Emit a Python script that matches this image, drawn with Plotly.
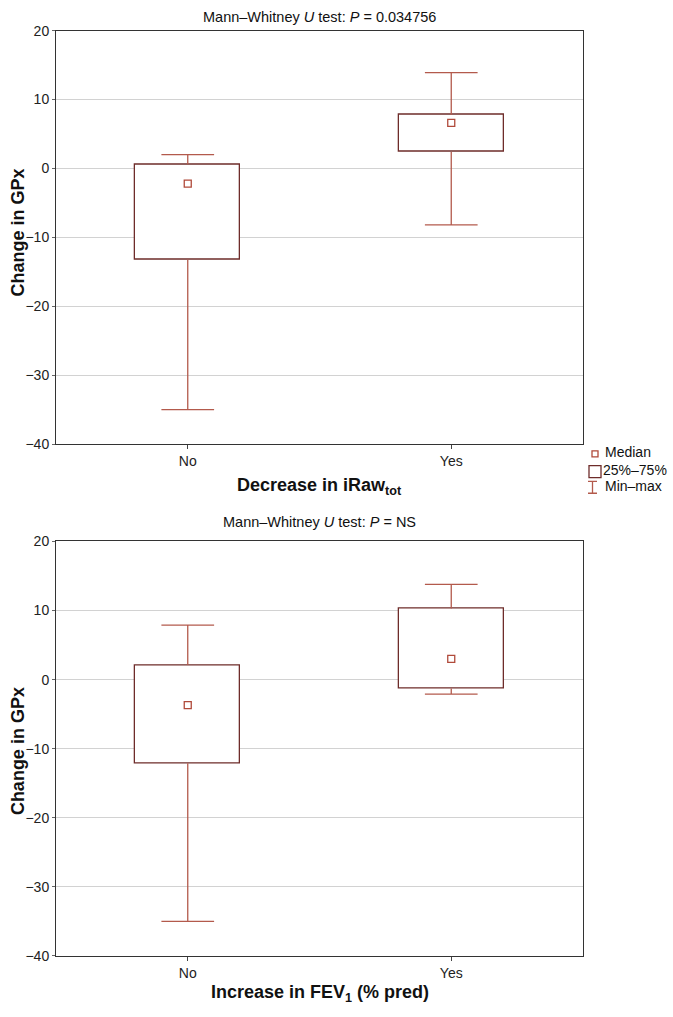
import plotly.graph_objects as go

W, H = 673, 1017

# ---- data ----
categories = ["No", "Yes"]
cat_pos = [0, 1]

# Panel 1: Decrease in iRaw_tot
p1_min = [-35.0, -8.2]
p1_q1 = [-13.2, 2.4]
p1_med = [-2.2, 6.6]
p1_q3 = [0.6, 7.8]
p1_max = [2.0, 13.9]

# Panel 2: Increase in FEV1 (% pred)
p2_min = [-35.0, -2.1]
p2_q1 = [-12.1, -1.3]
p2_med = [-3.7, 3.0]
p2_q3 = [2.1, 10.3]
p2_max = [7.9, 13.8]

y_ticks = [-40, -30, -20, -10, 0, 10, 20]

titles = ["Mann–Whitney <i>U</i> test: <i>P</i> = 0.034756",
          "Mann–Whitney <i>U</i> test: <i>P</i> = NS"]
xtitles = ["<b>Decrease in iRaw<sub>tot</sub></b>",
           "<b>Increase in FEV<sub>1</sub> (% pred)</b>"]
ytitle = "<b>Change in GPx</b>"
legend_labels = ["Median", "25%–75%", "Min–max"]

# ---- style ----
FONT = "Liberation Sans, Arial, sans-serif"
BOX_COL = "#6e2c2a"
WHISK_COL = "#b35a4c"
MED_COL = "#b04a3a"
GRID_COL = "#d2d2d2"
BOX_W = 0.4
CAP_HALF = 0.1


def px_x(x):
    return x / W


def px_y(y):
    return 1 - y / H


fig = go.Figure()

panels = [
    (p1_min, p1_q1, p1_med, p1_q3, p1_max, "x", "y"),
    (p2_min, p2_q1, p2_med, p2_q3, p2_max, "x2", "y2"),
]

for mn, q1, med, q3, mx, xa, ya in panels:
    # box (25%-75%)
    fig.add_trace(go.Bar(
        x=cat_pos, y=[b - a for a, b in zip(q1, q3)], base=q1,
        width=BOX_W, marker=dict(color="white", line=dict(color=BOX_COL, width=1.3)),
        xaxis=xa, yaxis=ya, showlegend=False, hoverinfo="skip"))
    # whiskers
    wx, wy = [], []
    for c, a, b, lo, hi in zip(cat_pos, q1, q3, mn, mx):
        wx += [c, c, None, c, c, None,
               c - CAP_HALF, c + CAP_HALF, None, c - CAP_HALF, c + CAP_HALF, None]
        wy += [b, hi, None, a, lo, None, hi, hi, None, lo, lo, None]
    fig.add_trace(go.Scatter(
        x=wx, y=wy, mode="lines", line=dict(color=WHISK_COL, width=1.3),
        xaxis=xa, yaxis=ya, showlegend=False, hoverinfo="skip"))
    # median
    fig.add_trace(go.Scatter(
        x=cat_pos, y=med, mode="markers",
        marker=dict(symbol="square-open", size=7, color=MED_COL, line=dict(width=1.3)),
        xaxis=xa, yaxis=ya, showlegend=False, hoverinfo="skip"))

# ---- manual legend (own small axis in pixel units) ----
LX0, LX1, LY0, LY1 = 580, 673, 443, 497
fig.add_trace(go.Scatter(
    x=[595], y=[453], mode="markers",
    marker=dict(symbol="square-open", size=6, color=MED_COL, line=dict(width=1.3)),
    xaxis="x3", yaxis="y3", showlegend=False, hoverinfo="skip"))
fig.add_trace(go.Scatter(
    x=[595], y=[471], mode="markers",
    marker=dict(symbol="square-open", size=12, color=BOX_COL, line=dict(width=1.3)),
    xaxis="x3", yaxis="y3", showlegend=False, hoverinfo="skip"))
fig.add_trace(go.Scatter(
    x=[588, 597, None, 592.5, 592.5, None, 588, 597],
    y=[481, 481, None, 481, 493, None, 493, 493],
    mode="lines", line=dict(color=WHISK_COL, width=1.3),
    xaxis="x3", yaxis="y3", showlegend=False, hoverinfo="skip"))
fig.add_trace(go.Scatter(
    x=[605, 603, 605], y=[453, 471, 487], mode="text", text=legend_labels,
    textposition="middle right", textfont=dict(family=FONT, size=14, color="#111"),
    xaxis="x3", yaxis="y3", showlegend=False, hoverinfo="skip"))

# ---- axes ----
xdom = [px_x(56), px_x(583)]
ydoms = [[px_y(443), px_y(23)], [px_y(963), px_y(542)]]

common_x = dict(
    range=[-0.5, 1.5], tickvals=cat_pos, ticktext=categories,
    ticks="outside", ticklen=4, tickcolor="#444", showgrid=False, zeroline=False,
    showline=True, linecolor="#333", linewidth=1, mirror=True,
    tickfont=dict(family=FONT, size=14, color="#222"), fixedrange=True)
common_y = dict(
    range=[-40, 20], tickvals=y_ticks, ticks="outside", ticklen=3, tickcolor="#666",
    showgrid=True, gridcolor=GRID_COL, gridwidth=1, zeroline=False,
    showline=True, linecolor="#333", linewidth=1, mirror=True,
    tickfont=dict(family=FONT, size=14, color="#222"), fixedrange=True)

fig.update_layout(
    width=W, height=H, margin=dict(l=0, r=0, t=0, b=0),
    paper_bgcolor="white", plot_bgcolor="white", bargap=0, barmode="overlay",
    showlegend=False,
    xaxis=dict(domain=xdom, anchor="y", **common_x),
    yaxis=dict(domain=ydoms[0], anchor="x", **common_y),
    xaxis2=dict(domain=xdom, anchor="y2", **common_x),
    yaxis2=dict(domain=ydoms[1], anchor="x2", **common_y),
    xaxis3=dict(domain=[px_x(LX0), px_x(LX1)], range=[LX0, LX1], anchor="y3",
                visible=False, fixedrange=True),
    yaxis3=dict(domain=[px_y(LY1), px_y(LY0)], range=[LY1, LY0], anchor="x3",
                visible=False, fixedrange=True),
    font=dict(family=FONT, color="#222"),
)

annotations = []
cx = px_x((56 + 583) / 2)
for t, ty in zip(titles, [9, 522]):
    annotations.append(dict(text=t, x=cx, y=px_y(ty), xref="paper", yref="paper",
                            showarrow=False, xanchor="center", yanchor="middle",
                            font=dict(family=FONT, size=14.5, color="#111")))
for t, ty in zip(xtitles, [486, 1001]):
    annotations.append(dict(text=t, x=cx, y=px_y(ty), xref="paper", yref="paper",
                            showarrow=False, xanchor="center", yanchor="middle",
                            font=dict(family=FONT, size=18, color="#111")))
for ty in [228, 755]:
    annotations.append(dict(text=ytitle, x=px_x(18), y=px_y(ty), xref="paper", yref="paper",
                            showarrow=False, xanchor="center", yanchor="middle", textangle=-90,
                            font=dict(family=FONT, size=18, color="#111")))
fig.update_layout(annotations=annotations)

fig.write_html(
    "out.html",
    config={"displayModeBar": False},
    post_script="document.body.style.margin='0';document.body.style.overflow='hidden';",
)
